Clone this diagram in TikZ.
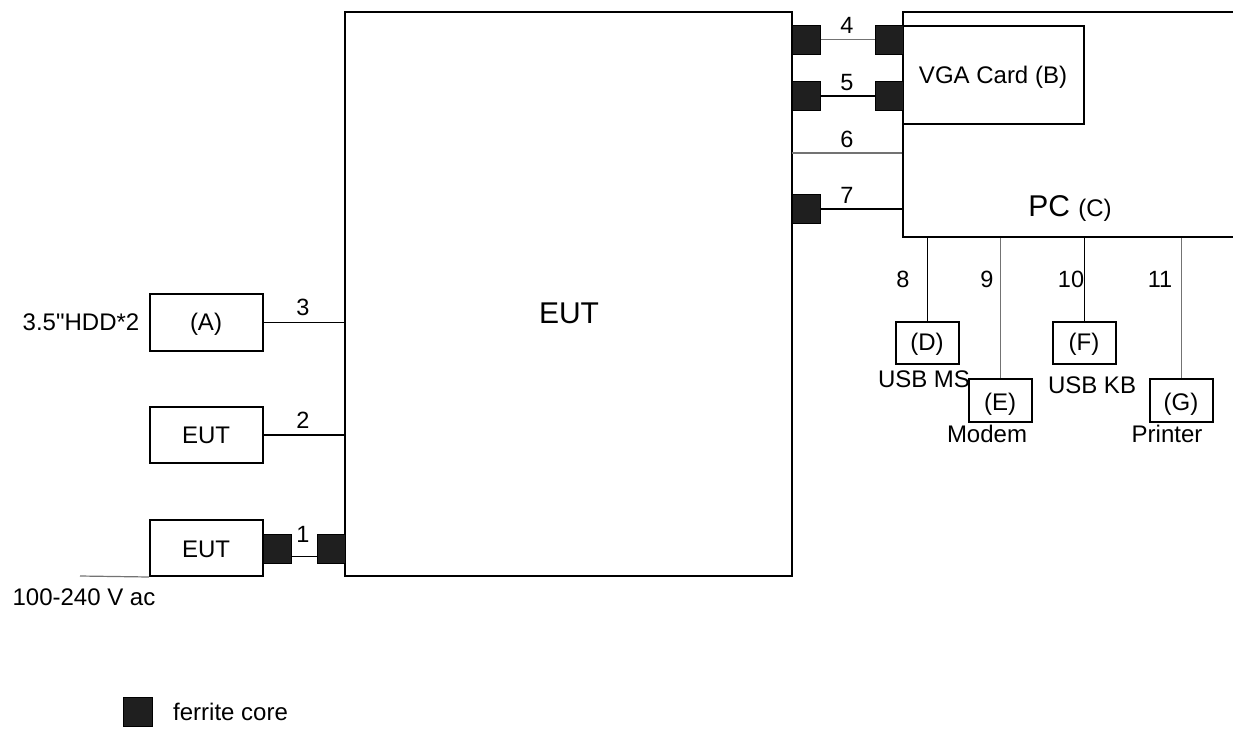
\documentclass[tikz,border=0pt]{standalone}
\usepackage{fontspec}
\setmainfont[Ligatures=TeXOff]{Liberation Sans}
\begin{document}
\begin{tikzpicture}[x=1pt,y=-1pt,
  box/.style={draw=black,line width=2pt,fill=white,inner sep=0pt},
  core/.style={draw=black,line width=1pt,fill=black!88,inner sep=0pt,minimum width=28pt,minimum height=29pt},
  wire/.style={line width=1.2pt,black},
  gwire/.style={line width=1.2pt,black!55},
  txt/.style={inner sep=0pt,anchor=base,font=\fontsize{24}{28}\selectfont},
  num/.style={inner sep=0pt,anchor=base,font=\fontsize{23.5}{28}\selectfont},
  big/.style={inner sep=0pt,anchor=base,font=\fontsize{30}{34}\selectfont}]
\useasboundingbox (0,0) rectangle (1233,731);
% main EUT
\node[box,minimum width=447pt,minimum height=564pt] (eut) at (568.5,294) {};
\node[big] (eutl) at (569,323) {EUT};
% PC and VGA
\node[box,minimum width=340pt,minimum height=225pt] (pc) at (1073,124.5) {};
\node[box,minimum width=181pt,minimum height=98pt] (vga) at (993.5,75) {};
\node[txt] (vgal) at (993,83) {VGA Card (B)};
\node[big] (pcl) at (1070,216) {PC {\fontsize{24}{28}\selectfont(C)}};
% ferrite cores right side
\node[core] (c4l) at (806,39.5) {};
\node[core] (c4r) at (889,39.5) {};
\node[core] (c5l) at (806,96) {};
\node[core] (c5r) at (889,96) {};
\node[core] (c7l) at (806,209) {};
\draw[gwire] (c4l.east) -- (c4r.west);
\draw[wire] (c5l.east) -- (c5r.west);
\coordinate (c6) at (792,153);
\draw[gwire] (c6) -- (c6 -| pc.west);
\draw[wire] (c7l.east) -- (c7l.east -| pc.west);
\node[num] (n4) at (847,33) {4};
\node[num] (n5) at (847,90) {5};
\node[num] (n6) at (847,147) {6};
\node[num] (n7) at (847,203) {7};
% peripherals below PC
\node[box,minimum width=63pt,minimum height=42pt] (bD) at (927.5,343) {};
\node[box,minimum width=63pt,minimum height=43pt] (bE) at (1000.5,400.5) {};
\node[box,minimum width=63pt,minimum height=42pt] (bF) at (1084.5,343) {};
\node[box,minimum width=63pt,minimum height=43pt] (bG) at (1181.5,400.5) {};
\draw[wire] (bD.north) -- (bD.north |- pc.south);
\draw[gwire] (bE.north) -- (bE.north |- pc.south);
\draw[wire] (bF.north) -- (bF.north |- pc.south);
\draw[gwire] (bG.north) -- (bG.north |- pc.south);
\node[txt] (tD) at (927,350) {(D)};
\node[txt] (tE) at (1000,410) {(E)};
\node[txt] (tF) at (1084,350) {(F)};
\node[txt] (tG) at (1181,410) {(G)};
\node[txt] (lD) at (924,387) {USB MS};
\node[txt] (lE) at (987,442) {Modem};
\node[txt] (lF) at (1092,393) {USB KB};
\node[txt] (lG) at (1167,442) {Printer};
\node[num] (n8) at (903,287) {8};
\node[num] (n9) at (987,287) {9};
\node[num] (n10) at (1071,287) {10};
\node[num] (n11) at (1160,287) {11};
% left side
\node[box,minimum width=113pt,minimum height=57pt] (bA) at (206.5,322.5) {};
\node[box,minimum width=113pt,minimum height=56pt] (bE2) at (206.5,435) {};
\node[box,minimum width=113pt,minimum height=56pt] (bE1) at (206.5,548) {};
\node[txt] (tA) at (206,330) {(A)};
\node[txt] (tE2) at (206,443) {EUT};
\node[txt] (tE1) at (206,557) {EUT};
\node[txt] (hdd) at (81,330) {3.5"HDD*2};
\draw[wire] (bA.east) -- (bA.east -| eut.west);
\draw[wire] (bE2.east) -- (bE2.east -| eut.west);
\node[num] (n3) at (303,315) {3};
\node[num] (n2) at (303,428) {2};
\node[core] (c1l) at (277,548.5) {};
\node[core] (c1r) at (331,548.5) {};
\draw[wire] ([yshift=-8pt]c1l.east) -- ([yshift=-8pt]c1r.west);
\node[num] (n1) at (303,542) {1};
\coordinate (pw) at (80,576);
\draw[gwire] (pw) -- (bE1.south west);
\node[txt] (pwl) at (84,605) {100-240 V ac};
% legend
\node[core,minimum width=29pt,minimum height=29pt] (leg) at (137.5,711.5) {};
\node[txt,anchor=base west] (legl) at (173,720) {ferrite core};
\end{tikzpicture}
\end{document}
